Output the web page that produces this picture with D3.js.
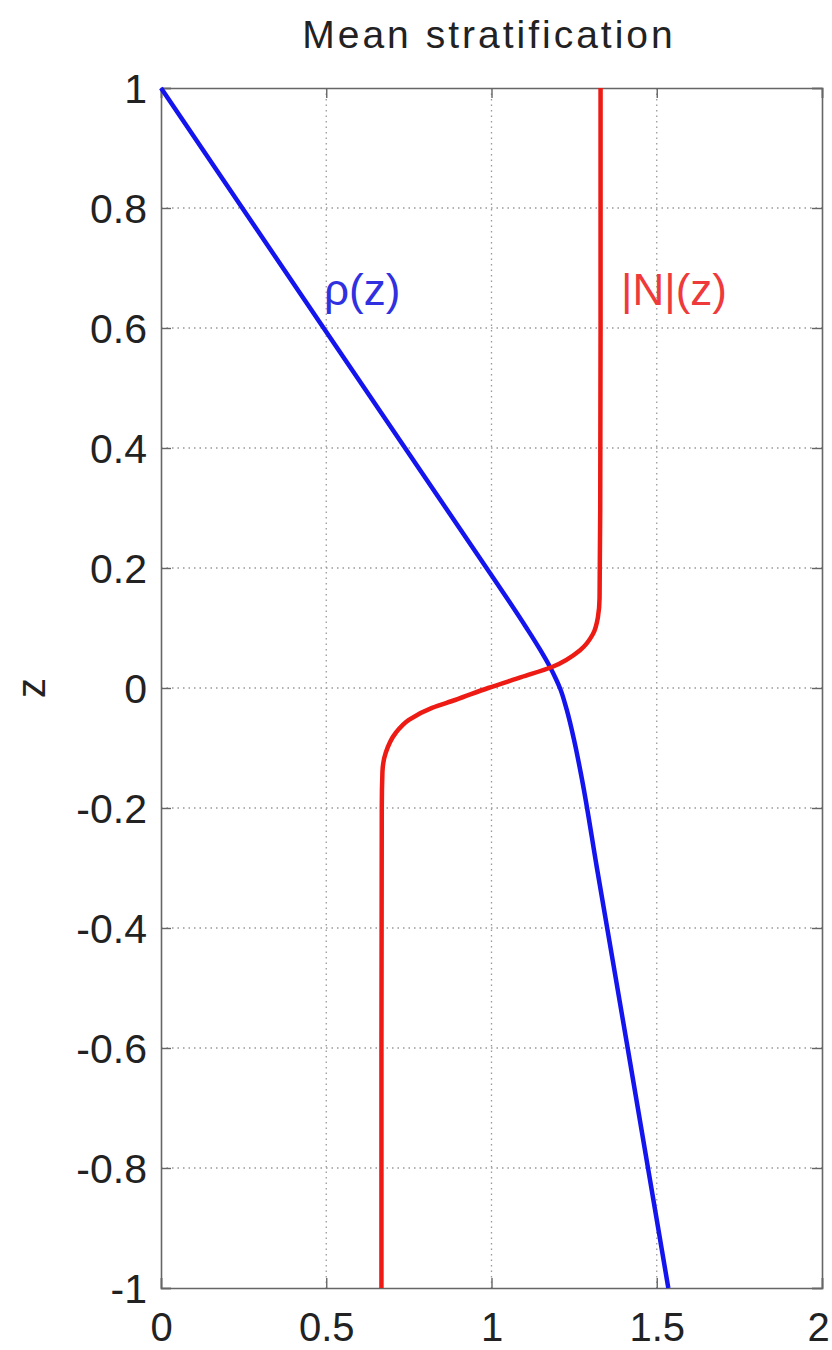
<!DOCTYPE html>
<html>
<head>
<meta charset="utf-8">
<script src="https://cdn.jsdelivr.net/npm/d3@7"></script>
<style>
  body { margin: 0; background: #fff; }
  text { font-family: "Liberation Sans", Arial, sans-serif; }
</style>
</head>
<body>
<div id="chart"></div>
<script>
// depth levels (z)
const zRho = [1, 0.6, 0.2, 0.147, 0.1, 0.063, 0.035, 0.015, 0, -0.037, -0.087, -0.15, -0.3, -0.6, -1];
const rhoVals = [0, 0.492, 0.985, 1.05, 1.106, 1.148, 1.177, 1.195, 1.207, 1.228, 1.25, 1.273, 1.319, 1.412, 1.535];

const zN = [1, 0.6, 0.3, 0.15, 0.118, 0.09, 0.063, 0.035, 0.018, 0, -0.02, -0.033, -0.053, -0.075, -0.108, -0.14, -0.2, -0.6, -1];
const nVals = [1.33, 1.33, 1.329, 1.327, 1.322, 1.307, 1.268, 1.183, 1.09, 0.99, 0.89, 0.82, 0.75, 0.71, 0.68, 0.67, 0.668, 0.667, 0.667];

const xTicks = [0, 0.5, 1, 1.5, 2];
const yTicks = [-1, -0.8, -0.6, -0.4, -0.2, 0, 0.2, 0.4, 0.6, 0.8, 1];

const W = 832, H = 1350;
const margin = {top: 88, right: 10, bottom: 62, left: 161};
const width = W - margin.left - margin.right;
const height = H - margin.top - margin.bottom;

const svg = d3.select("#chart").append("svg")
    .attr("width", W)
    .attr("height", H);

const g = svg.append("g")
    .attr("transform", `translate(${margin.left},${margin.top})`);

const x = d3.scaleLinear().domain([0, 2]).range([0, width]);
const y = d3.scaleLinear().domain([-1, 1]).range([height, 0]);

// dotted grid
g.selectAll(".vgrid")
    .data(xTicks.slice(1, -1))
    .enter().append("line")
    .attr("x1", d => x(d)).attr("x2", d => x(d))
    .attr("y1", 0).attr("y2", height)
    .attr("stroke", "#999").attr("stroke-width", 1.3)
    .attr("stroke-dasharray", "1.5,4");

g.selectAll(".hgrid")
    .data(yTicks.slice(1, -1))
    .enter().append("line")
    .attr("x1", 0).attr("x2", width)
    .attr("y1", d => y(d)).attr("y2", d => y(d))
    .attr("stroke", "#999").attr("stroke-width", 1.3)
    .attr("stroke-dasharray", "1.5,4");

// axes, ticks pointing inward
const fmt = d => String(d);

const xAxis = g.append("g")
    .attr("transform", `translate(0,${height})`)
    .call(d3.axisBottom(x).tickValues(xTicks).tickSize(-10).tickPadding(24).tickFormat(fmt));
const yAxis = g.append("g")
    .call(d3.axisLeft(y).tickValues(yTicks).tickSize(-10).tickPadding(14).tickFormat(fmt));
g.append("g")
    .call(d3.axisTop(x).tickValues(xTicks).tickSize(-10).tickFormat(""));
g.append("g")
    .attr("transform", `translate(${width},0)`)
    .call(d3.axisRight(y).tickValues(yTicks).tickSize(-10).tickFormat(""));

g.selectAll(".domain").attr("stroke", "#666").attr("stroke-width", 1.6);
g.selectAll(".tick line").attr("stroke", "#666").attr("stroke-width", 1.4);

xAxis.selectAll("text").attr("font-size", 40).attr("fill", "#222").attr("dy", "0.72em");
// last label sits at the window edge; keep it inside
xAxis.selectAll("text").filter(d => d === 2).attr("dx", -4);
yAxis.selectAll("text").attr("font-size", 41).attr("fill", "#222").attr("dy", "0.36em");

// curves
const line = d3.line()
    .x(d => x(d[0]))
    .y(d => y(d[1]))
    .curve(d3.curveMonotoneY);

g.append("path")
    .datum(rhoVals.map((v, i) => [v, zRho[i]]))
    .attr("fill", "none")
    .attr("stroke", "#1414ee")
    .attr("stroke-width", 4.5)
    .attr("d", line);

g.append("path")
    .datum(nVals.map((v, i) => [v, zN[i]]))
    .attr("fill", "none")
    .attr("stroke", "#ee1a14")
    .attr("stroke-width", 4.5)
    .attr("d", line);

// curve labels
svg.append("text")
    .attr("x", 324).attr("y", 305)
    .attr("font-size", 44).attr("fill", "#3030e0")
    .text("ρ(z)");

svg.append("text")
    .attr("x", 621).attr("y", 305)
    .attr("font-size", 44).attr("fill", "#ee3a3a")
    .text("|N|(z)");

// title
svg.append("text")
    .attr("x", 489).attr("y", 48)
    .attr("text-anchor", "middle")
    .attr("font-size", 39).attr("fill", "#222")
    .attr("letter-spacing", 3)
    .text("Mean stratification");

// y label
svg.append("text")
    .attr("transform", `translate(45,${margin.top + y(0)}) rotate(-90)`)
    .attr("text-anchor", "middle")
    .attr("font-size", 40).attr("fill", "#222")
    .text("z");
</script>
</body>
</html>
